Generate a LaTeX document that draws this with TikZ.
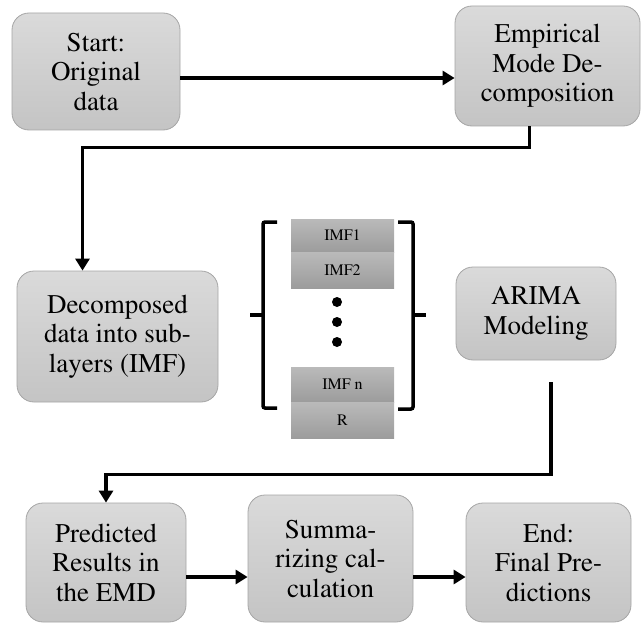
\documentclass[tikz,border=0pt]{standalone}
\usepackage[T1]{fontenc}
\renewcommand{\rmdefault}{ptm}
\usetikzlibrary{arrows.meta}
\definecolor{boxtop}{RGB}{218, 218, 218}
\definecolor{boxbottom}{RGB}{196, 196, 196}
\definecolor{boxline}{RGB}{165, 165, 165}
\definecolor{layertop}{RGB}{186, 186, 186}
\definecolor{layerbottom}{RGB}{156, 156, 156}

\begin{document}
\begin{tikzpicture}[x=1pt, y=-1pt,
    stage/.style={draw=boxline, line width=0.8pt, rounded corners=17pt,
        top color=boxtop, bottom color=boxbottom, align=center, inner sep=0pt,
        font=\fontsize{27}{29.5}\selectfont},
    layer/.style={draw=none, top color=layertop, bottom color=layerbottom,
        minimum width=103pt, inner sep=0pt, font=\fontsize{16}{18}\selectfont},
    flow/.style={line width=3.5pt, -{Triangle[length=12pt,width=14pt]}},
    bracket/.style={line width=3.5pt, rounded corners=2pt}]
\useasboundingbox (0,0) rectangle (642,623);

% Stufen des Ablaufs
\node[stage, minimum width=168pt, minimum height=117pt] (start) at (96,71.5) {Start:\\Original\\data};
\node[stage, minimum width=185pt, minimum height=120pt] (emd) at (547.5,66) {Empirical\\Mode De-\\composition};
\node[stage, minimum width=201pt, minimum height=131pt] (decomp) at (117.5,336.5) {Decomposed\\data into sub-\\layers (IMF)};
\node[stage, minimum width=160pt, minimum height=93pt] (arima) at (536,313.5) {ARIMA\\Modeling};
\node[stage, minimum width=160pt, minimum height=119pt] (pred) at (106,562.5) {Predicted\\Results in\\the EMD};
\node[stage, minimum width=165pt, minimum height=127pt] (summ) at (330.5,558.5) {Summa-\\rizing cal-\\culation};
\node[stage, minimum width=165pt, minimum height=119pt] (final) at (548.5,562.5) {End:\\Final Pre-\\dictions};

% Teilschichten (IMF)
\node[layer, minimum height=33pt] (imf1) at (342.5,235.5) {IMF1};
\node[layer, minimum height=36pt] (imf2) at (342.5,270) {IMF2};
\node[layer, minimum height=35pt] (imfn) at (342.5,384.5) {IMF n};
\node[layer, minimum height=36pt] (resid) at (342.5,420) {R};
\foreach \y in {302,322,342} {
    \fill (337,\y) circle (5pt);
}

% Klammern
\draw[bracket] (277,222) -- (263,222) -- (263,408) -- (277,408);
\draw[bracket, rounded corners=0pt] (250,315) -- (263,315);
\draw[bracket] (398,222) -- (413,222) -- (413,409) -- (398,409);
\draw[bracket, rounded corners=0pt] (413,315) -- (426,315);

% Verbindungen
\coordinate (row1) at (0,78);
\coordinate (row3) at (0,577);
\draw[flow] (start.east |- row1) -- (emd.west |- row1);
\draw[flow] ([xshift=-18pt]emd.south) -- ++(0,21) -| ([xshift=-35pt]decomp.north);
\draw[flow] ([xshift=15pt,yshift=-22pt]arima.south) -- ++(0,92) -| (pred.north);
\draw[flow] (pred.east |- row3) -- (summ.west |- row3);
\draw[flow] (summ.east |- row3) -- (final.west |- row3);
\end{tikzpicture}
\end{document}
